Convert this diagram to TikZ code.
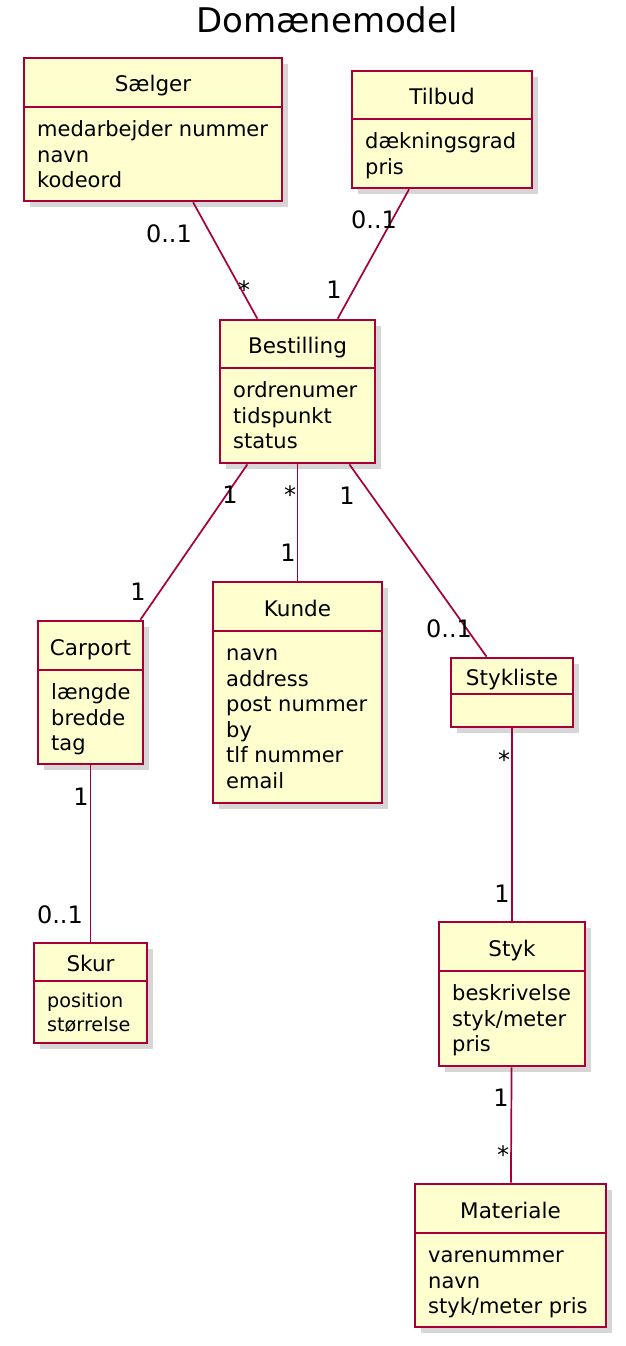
\documentclass[tikz,border=0pt]{standalone}
\usepackage{fontspec}
\setmainfont{DejaVu Sans}
\usetikzlibrary{shadows}
\definecolor{umlborder}{HTML}{A80036}
\definecolor{umlfill}{HTML}{FEFECE}

% class box: [line gap], id, left, top, right, bottom, divider, name, attributes
\newcommand{\umlclass}[9][25.6]{%
  \pgfmathsetmacro\attrsize{#1*0.82}%
  \node[classbox, minimum width={(#5-#3)*1pt}, minimum height={(#6-#4)*1pt}] (#2) at ({(#3+#5)/2},{(#4+#6)/2}) {};
  \draw[classsep] (#3,#7) -- (#5,#7);
  \node[classname] (#2-name) at ({(#3+#5)/2},{(#4+#7)/2+9.5}) {#8};
  \if\relax\detokenize{#9}\relax\else
    \foreach \attr [count=\i] in {#9}
      \node[classattr, font=\fontsize{\attrsize}{#1}\selectfont] (#2-\i) at (#3+13,{#7+#1*1.15+(\i-1)*#1}) {\attr};
  \fi
}

\begin{document}
\begin{tikzpicture}[x=1pt, y=-1pt,
  classbox/.style={draw=umlborder, fill=umlfill, line width=2.7pt, inner sep=0pt,
    drop shadow={shadow xshift=6pt, shadow yshift=-6pt, fill=black!40, opacity=.4}},
  classsep/.style={draw=umlborder, line width=2.7pt},
  classname/.style={anchor=base, inner sep=0pt, font=\fontsize{21.5}{25.6}\selectfont},
  classattr/.style={anchor=base west, inner sep=0pt},
  assoc/.style={draw=umlborder, line width=1.7pt},
  mult/.style={anchor=base, inner sep=0pt, font=\fontsize{24}{28}\selectfont}]

\useasboundingbox (0,0) rectangle (625,1346);

% Title
\node[anchor=base, font=\fontsize{34}{40}\selectfont] (title) at (327,33) {Domænemodel};

% Classes
\umlclass{sal}{24}{58}{282}{201}{107}{Sælger}{medarbejder nummer, navn, kodeord}
\umlclass{tilbud}{352}{71}{532}{188}{119}{Tilbud}{dækningsgrad, pris}
\umlclass{best}{220}{320}{375}{463}{368}{Bestilling}{ordrenumer, tidspunkt, status}
\umlclass{carport}{38}{621}{143}{764}{670}{Carport}{længde, bredde, tag}
\umlclass{kunde}{213}{582}{382}{803}{631}{Kunde}{navn, address, post nummer, by, tlf nummer, email}
\umlclass{styliste}{451}{658}{573}{727}{694}{Stykliste}{}
\umlclass[23.4]{skur}{34}{943}{147}{1043}{981}{Skur}{position, størrelse}
\umlclass{styk}{439}{922}{585}{1066}{971}{Styk}{beskrivelse, styk/meter, pris}
\umlclass{mat}{415}{1184}{606}{1327}{1233}{Materiale}{varenummer, navn, styk/meter pris}

% Associations
\draw[assoc] (sal) -- (best);
\draw[assoc] (tilbud) -- (best);
\draw[assoc] (best) -- (carport);
\draw[assoc] (best) -- (kunde);
\draw[assoc] (best) -- (styliste);
\draw[assoc] (carport) -- (skur);
\draw[assoc] (styliste) -- (styk);
\draw[assoc] (styk) -- (mat);

% Multiplicities
\node[mult] (m-sal) at (169,242) {0..1};
\node[mult] (m-salbest) at (244,298) {*};
\node[mult] (m-tilbud) at (374,228) {0..1};
\node[mult] (m-tilbest) at (334,298) {1};
\node[mult] (m-bestcar) at (230,503) {1};
\node[mult] (m-car) at (138,600) {1};
\node[mult] (m-bestkun) at (290,503) {*};
\node[mult] (m-kunde) at (288,561) {1};
\node[mult] (m-beststy) at (347,504) {1};
\node[mult] (m-styliste) at (449,637) {0..1};
\node[mult] (m-carskur) at (81,805) {1};
\node[mult] (m-skur) at (60,923) {0..1};
\node[mult] (m-stylstyk) at (504,768) {*};
\node[mult] (m-styk) at (502,902) {1};
\node[mult] (m-stykmat) at (501,1106) {1};
\node[mult] (m-mat) at (503,1163) {*};

\end{tikzpicture}
\end{document}
